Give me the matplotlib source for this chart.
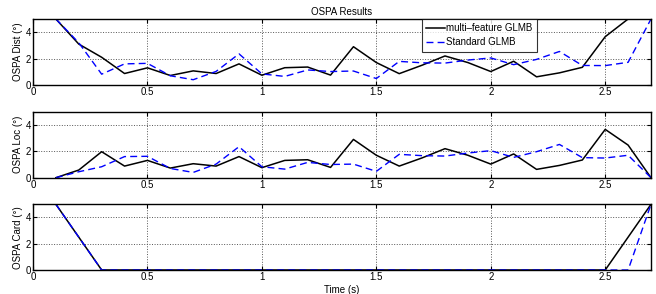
import numpy as np
import matplotlib.pyplot as plt

plt.rcParams['font.family'] = ['Liberation Sans', 'DejaVu Sans']
plt.rcParams['font.size'] = 7

# time samples (s)
t = [0.1, 0.2, 0.3, 0.4, 0.5, 0.6, 0.7, 0.8, 0.9, 1.0, 1.1, 1.2, 1.3, 1.4,
     1.5, 1.6, 1.7, 1.8, 1.9, 2.0, 2.1, 2.2, 2.3, 2.4, 2.5, 2.6, 2.7]

# multi-feature GLMB
mf_dist = [5.0, 3.1, 2.1, 0.87, 1.3, 0.72, 1.07, 0.87, 1.6, 0.74, 1.31, 1.36, 0.75, 2.9,
           1.7, 0.86, 1.5, 2.2, 1.7, 1.02, 1.8, 0.62, 0.92, 1.34, 3.66, 5.0, 5.0]
mf_loc = [0.0, 0.58, 1.97, 0.88, 1.31, 0.73, 1.06, 0.88, 1.6, 0.76, 1.31, 1.36, 0.78, 2.9,
          1.7, 0.88, 1.5, 2.2, 1.7, 1.03, 1.8, 0.63, 0.93, 1.34, 3.66, 2.47, 0.0]
mf_card = [5.0, 2.5, 0, 0, 0, 0, 0, 0, 0, 0, 0, 0, 0, 0,
           0, 0, 0, 0, 0, 0, 0, 0, 0, 0, 0, 2.5, 5.0]

# Standard GLMB
st_dist = [5.0, 3.2, 0.82, 1.6, 1.64, 0.7, 0.4, 1.03, 2.36, 0.84, 0.65, 1.14, 1.02, 1.06,
           0.49, 1.79, 1.68, 1.66, 1.89, 2.05, 1.54, 1.94, 2.54, 1.48, 1.47, 1.72, 5.0]
st_loc = [0.0, 0.45, 0.83, 1.6, 1.62, 0.7, 0.4, 1.03, 2.35, 0.83, 0.65, 1.16, 1.0, 1.03,
          0.48, 1.77, 1.67, 1.64, 1.87, 2.05, 1.54, 1.97, 2.52, 1.52, 1.49, 1.7, 0.0]
st_card = [5.0, 2.5, 0, 0, 0, 0, 0, 0, 0, 0, 0, 0, 0, 0,
           0, 0, 0, 0, 0, 0, 0, 0, 0, 0, 0, 0, 5.0]

panels = [
    ('OSPA Dist (°)', mf_dist, st_dist),
    ('OSPA Loc (°)', mf_loc, st_loc),
    ('OSPA Card (°)', mf_card, st_card),
]

fig = plt.figure(figsize=(6.56, 2.94), dpi=100)
W, H = 656, 294
boxes = [(19, 85), (111.7, 177.7), (204.3, 270)]
left, right = 33, 651

axes = []
for (top, bot), (ylab, mf, st) in zip(boxes, panels):
    ax = fig.add_axes([left / W, 1 - bot / H, (right - left) / W, (bot - top) / H])
    ax.plot(t, mf, color='black', lw=1.1, label='multi\u2013feature GLMB')
    ax.plot(t, st, color='blue', lw=1.0, ls=(0, (5, 3)), label='Standard GLMB')
    ax.set_xlim(0, 2.7)
    ax.set_ylim(0, 5)
    ax.set_xticks([0, 0.5, 1, 1.5, 2, 2.5])
    ax.set_xticklabels(['0', '0.5', '1', '1.5', '2', '2.5'])
    ax.set_yticks([0, 2, 4])
    ax.grid(True, color='#555555', ls=':', lw=0.7)
    ax.tick_params(direction='in', length=3, width=0.8, pad=1.5, labelsize=7,
                   top=True, right=True)
    for s in ax.spines.values():
        s.set_linewidth(1.0)
    ax.set_ylabel(ylab, fontsize=7, labelpad=2)
    axes.append(ax)

axes[0].set_title('OSPA Results', fontsize=7, pad=3)
axes[2].set_xlabel('Time (s)', fontsize=7, labelpad=2)
leg = axes[0].legend(loc='upper left', bbox_to_anchor=((421.7 - left) / (right - left), 1.0),
                     fontsize=7, frameon=True, fancybox=False, edgecolor='black',
                     borderpad=0.45, labelspacing=0.4, handlelength=1.9, handletextpad=0.2,
                     borderaxespad=0)
leg.get_frame().set_linewidth(0.8)

fig.savefig('out.png', dpi=100)
